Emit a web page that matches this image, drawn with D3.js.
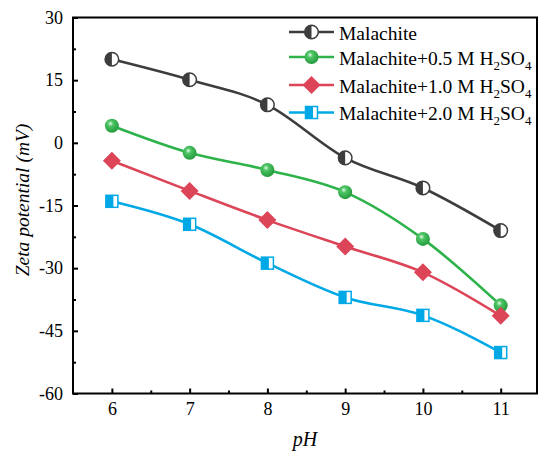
<!DOCTYPE html>
<html><head><meta charset="utf-8">
<script src="https://cdn.jsdelivr.net/npm/d3@7"></script>
<style>body{margin:0;background:#fff}svg{display:block}</style>
</head><body>
<svg id="c" width="542" height="455"></svg>
<script>
const pH = [6, 7, 8, 9, 10, 11];
const malachite = [20.0, 15.1, 9.1, -3.6, -10.8, -21.0];
const mal05 = [4.1, -2.4, -6.5, -11.8, -23.0, -38.9];
const mal10 = [-4.3, -11.5, -18.5, -24.8, -31.0, -41.4];
const mal20 = [-14.0, -19.5, -28.8, -37.0, -41.3, -50.2];
const seriesLabels = ["Malachite", "Malachite+0.5 M H", "Malachite+1.0 M H", "Malachite+2.0 M H"];
const colors = ["#3d3d3d", "#2eb34b", "#dc4558", "#00a9e6"];
const yTicks = [30, 15, 0, -15, -30, -45, -60];
const xTicks = [6, 7, 8, 9, 10, 11];

const svg = d3.select("#c");
const L = 73, R = 537, T = 17.5, B = 393.5;
const x = d3.scaleLinear().domain([5.5, 11.467]).range([L, R]);
const y = d3.scaleLinear().domain([-60, 30]).range([B, T]);
const font = "Liberation Serif";

const defs = svg.append("defs");
const g = defs.append("radialGradient").attr("id","gsph").attr("cx","40%").attr("cy","35%").attr("r","65%");
g.append("stop").attr("offset","0%").attr("stop-color","#e8f8ea");
g.append("stop").attr("offset","30%").attr("stop-color","#4cc564");
g.append("stop").attr("offset","100%").attr("stop-color","#249a3c");

svg.append("rect").attr("x",L).attr("y",T).attr("width",R-L).attr("height",B-T)
  .attr("fill","none").attr("stroke","#000").attr("stroke-width",2);

const fmt = d => String(d);
const xAxis = d3.axisBottom(x).tickValues(xTicks).tickSize(-5).tickPadding(9).tickFormat(fmt);
svg.append("g").attr("transform",`translate(0,${B})`).call(xAxis);
const xMinor = d3.axisBottom(x).tickValues([6.5,7.5,8.5,9.5,10.5]).tickSize(-3).tickFormat("");
svg.append("g").attr("transform",`translate(0,${B})`).call(xMinor);
const yAxis = d3.axisLeft(y).tickValues(yTicks).tickSize(-5).tickPadding(10).tickFormat(fmt);
svg.append("g").attr("transform",`translate(${L},0)`).call(yAxis);
const yMinor = d3.axisLeft(y).tickValues([22.5,7.5,-7.5,-22.5,-37.5,-52.5]).tickSize(-3).tickFormat("");
svg.append("g").attr("transform",`translate(${L},0)`).call(yMinor);
svg.selectAll(".domain").remove();
svg.selectAll(".tick line").attr("stroke","#000").attr("stroke-width",2);
svg.selectAll(".tick text").attr("font-family",font).attr("font-size",18).attr("fill","#000");

svg.append("text").attr("x",(L+R)/2).attr("y",446).attr("text-anchor","middle")
  .attr("font-family",font).attr("font-size",20).attr("font-style","italic").text("pH");
svg.append("text").attr("transform",`translate(29,200) rotate(-90)`).attr("text-anchor","middle")
  .attr("font-family",font).attr("font-size",19.5).attr("font-style","italic").text("Zeta potential (mV)");

const data = [malachite, mal05, mal10, mal20];
const line = d3.line().x((d,i)=>x(pH[i])).y(d=>y(d)).curve(d3.curveMonotoneX);

function marker(sel, k, cx, cy) {
  const gg = sel.append("g").attr("transform",`translate(${cx},${cy})`);
  if (k===0) {
    gg.append("circle").attr("r",6.8).attr("fill","#fff").attr("stroke","#3d3d3d").attr("stroke-width",1.5);
    gg.append("path").attr("d",d3.arc()({innerRadius:0,outerRadius:6.8,startAngle:Math.PI,endAngle:2*Math.PI})).attr("fill","#3d3d3d");
  } else if (k===1) {
    gg.append("circle").attr("r",7).attr("fill","url(#gsph)");
  } else if (k===2) {
    gg.append("path").attr("d","M0,-9L9,0L0,9L-9,0Z").attr("fill",colors[2]);
  } else {
    gg.append("rect").attr("x",-6).attr("y",-6).attr("width",12).attr("height",12).attr("fill","#fff").attr("stroke",colors[3]).attr("stroke-width",1.5);
    gg.append("rect").attr("x",-6).attr("y",-6).attr("width",7.5).attr("height",12).attr("fill",colors[3]);
  }
}

const plot = svg.append("g");
data.forEach((vals,k)=>{
  plot.append("path").attr("d",line(vals)).attr("fill","none").attr("stroke",colors[k]).attr("stroke-width",2.6);
});
data.forEach((vals,k)=>{
  vals.forEach((v,i)=>marker(plot,k,x(pH[i]),y(v)));
});

const legY = [32, 57, 85, 112.5];
const leg = svg.append("g");
seriesLabels.forEach((lab,k)=>{
  leg.append("line").attr("x1",289).attr("x2",334).attr("y1",legY[k]).attr("y2",legY[k])
    .attr("stroke",colors[k]).attr("stroke-width",2.6);
  marker(leg,k,311.5,legY[k]);
  const t = leg.append("text").attr("x",339).attr("y",legY[k]+7.5).attr("font-family",font).attr("font-size",19.5).attr("fill","#000");
  t.append("tspan").text(lab);
  if (k>0) {
    t.append("tspan").attr("font-size",13).attr("dy",5).text("2");
    t.append("tspan").attr("dy",-5).text("SO");
    t.append("tspan").attr("font-size",13).attr("dy",5).text("4");
  }
});
</script>
</body></html>
